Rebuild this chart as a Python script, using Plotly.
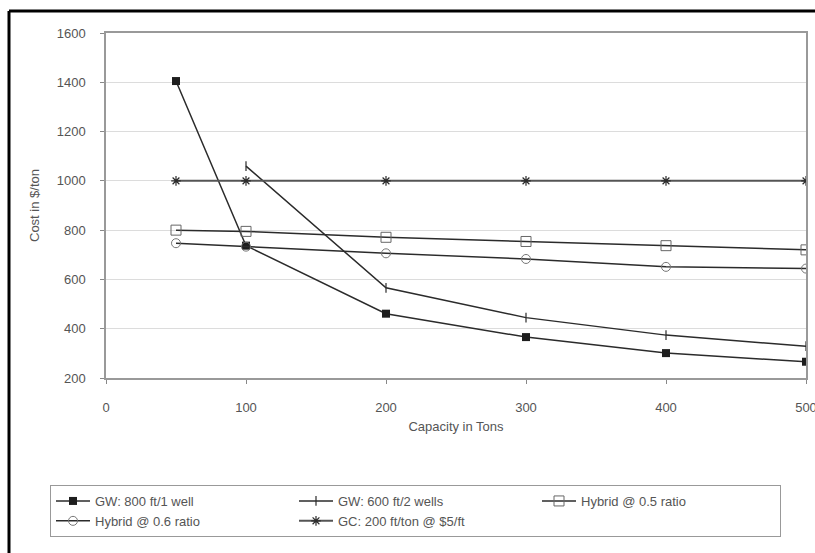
import plotly.graph_objects as go

capacity = [50, 100, 200, 300, 400, 500]
capacity_gw600 = [100, 200, 300, 400, 500]

gw800 = [1405, 737, 461, 366, 301, 266]
gw600 = [1060, 566, 445, 374, 329]
hybrid05 = [800, 795, 771, 754, 737, 720]
hybrid06 = [747, 733, 706, 683, 651, 644]
gc200 = [1000, 1000, 1000, 1000, 1000, 1000]

names = ["GW: 800 ft/1 well", "GW: 600 ft/2 wells", "Hybrid @ 0.5 ratio",
         "Hybrid @ 0.6 ratio", "GC: 200 ft/ton @ $5/ft"]

x_ticks = [0, 100, 200, 300, 400, 500]
y_ticks = [200, 400, 600, 800, 1000, 1200, 1400, 1600]

line_col = "#2b2b2b"
txt_col = "#555555"
font_family = "Liberation Sans, Arial, sans-serif"

fig = go.Figure()
fig.add_trace(go.Scatter(x=capacity, y=gw800, name=names[0], mode="lines+markers",
                         line=dict(color=line_col, width=1.5),
                         marker=dict(symbol="square", size=8, color="#1e1e1e")))
fig.add_trace(go.Scatter(x=capacity_gw600, y=gw600, name=names[1], mode="lines+markers",
                         line=dict(color=line_col, width=1.5),
                         marker=dict(symbol="line-ns-open", size=7, color=line_col,
                                     line=dict(width=1.2, color=line_col))))
fig.add_trace(go.Scatter(x=capacity, y=hybrid05, name=names[2], mode="lines+markers",
                         line=dict(color=line_col, width=1.5),
                         marker=dict(symbol="square-open", size=10, color="#666666",
                                     line=dict(width=1))))
fig.add_trace(go.Scatter(x=capacity, y=hybrid06, name=names[3], mode="lines+markers",
                         line=dict(color=line_col, width=1.5),
                         marker=dict(symbol="circle-open", size=9, color="#777777",
                                     line=dict(width=1))))
fig.add_trace(go.Scatter(x=capacity, y=gc200, name=names[4], mode="lines+markers",
                         line=dict(color="#555555", width=2),
                         marker=dict(symbol="asterisk-open", size=8, color=line_col,
                                     line=dict(width=1.2, color=line_col))))

# outer frame (left and top edges of the cropped chart border)
fig.add_shape(type="line", xref="paper", yref="paper",
              x0=(9 - 106) / 700, x1=(9 - 106) / 700, y0=(378 - 11) / 345, y1=(378 - 560) / 345,
              line=dict(color="black", width=3))
fig.add_shape(type="line", xref="paper", yref="paper",
              x0=(9 - 106) / 700, x1=(820 - 106) / 700, y0=(378 - 11) / 345, y1=(378 - 11) / 345,
              line=dict(color="black", width=3))

fig.update_layout(
    width=815, height=553, autosize=False,
    margin=dict(l=106, r=9, t=33, b=175, autoexpand=False),
    paper_bgcolor="white", plot_bgcolor="white",
    font=dict(family=font_family, size=12, color=txt_col),
    showlegend=True,
    legend=dict(orientation="h", x=(50 - 106) / 700, y=(378 - 485) / 345,
                xanchor="left", yanchor="top",
                bordercolor="#999999", borderwidth=1,
                entrywidth=194, entrywidthmode="pixels",
                font=dict(size=13, color=txt_col, family=font_family),
                itemwidth=34, traceorder="normal"),
    xaxis=dict(range=[0, 500], tickvals=x_ticks, ticks="outside", ticklen=4,
               tickcolor="#888888", showgrid=False, zeroline=False,
               showline=True, linecolor="#999999", linewidth=1.5, mirror=True,
               ticklabelstandoff=13, tickfont=dict(size=13), ticklabeloverflow="allow",
               title=dict(text="Capacity in Tons", standoff=8,
                          font=dict(size=13, color=txt_col))),
    yaxis=dict(range=[200, 1600], tickvals=y_ticks, ticks="outside", ticklen=4,
               tickcolor="#888888", showgrid=True, gridcolor="#dcdcdc", gridwidth=1,
               zeroline=False, showline=True, linecolor="#999999", linewidth=1.5,
               mirror=True, ticklabelstandoff=12, tickfont=dict(size=13),
               title=dict(text="Cost in $/ton", standoff=14,
                          font=dict(size=13, color=txt_col))),
)

fig.write_html("out.html", config={"displayModeBar": False},
               post_script="document.body.style.margin='0';")
